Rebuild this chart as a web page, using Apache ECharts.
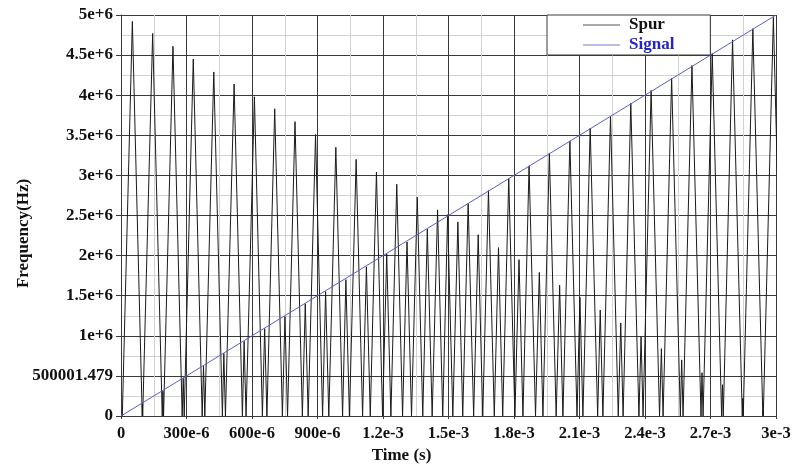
<!DOCTYPE html>
<html>
<head>
<meta charset="utf-8">
<script src="https://cdn.jsdelivr.net/npm/echarts@6/dist/echarts.min.js"></script>
<style>
html,body{margin:0;padding:0;background:#fff;}
#c{width:794px;height:468px;}
</style>
</head>
<body>
<div id="c"></div>
<script>
// ---- data (times in ms, frequencies in MHz) ----
const xTickLabels = ['0','300e-6','600e-6','900e-6','1.2e-3','1.5e-3','1.8e-3','2.1e-3','2.4e-3','2.7e-3','3e-3'];
const yTickLabels = ['0','500001.479','1e+6','1.5e+6','2e+6','2.5e+6','3e+6','3.5e+6','4e+6','4.5e+6','5e+6'];

// descending family of spur peaks
const spurDownT = [0.052,0.145,0.238,0.331,0.425,0.518,0.611,0.704,0.797,0.891,0.984,1.077,1.170,1.263,1.357,1.450,1.543,1.636,1.729,1.823,1.916,2.009,2.102,2.195,2.289,2.382,2.475,2.568,2.661,2.755,2.848,2.941];
const spurDownF = [4.92,4.77,4.61,4.45,4.29,4.14,3.98,3.83,3.67,3.51,3.35,3.20,3.04,2.89,2.73,2.57,2.42,2.26,2.10,1.95,1.79,1.63,1.48,1.32,1.16,0.99,0.84,0.70,0.54,0.39,0.22,0.08];
// ascending family of spur peaks
const spurUpT = [0.098,0.192,0.285,0.378,0.471,0.564,0.658,0.751,0.844,0.937,1.030,1.124,1.217,1.310,1.403,1.496,1.590,1.683,1.776,1.869,1.962,2.056,2.149,2.242,2.335,2.428,2.522,2.615,2.708,2.801,2.894,2.988];
const spurUpF = [0.15,0.31,0.47,0.62,0.78,0.93,1.09,1.24,1.40,1.55,1.70,1.86,2.02,2.17,2.33,2.51,2.65,2.81,2.96,3.12,3.28,3.43,3.59,3.74,3.90,4.06,4.21,4.37,4.52,4.69,4.83,4.97];
// spur zero crossings (troughs)
const spurLowT = [0.006,
  0.0972,0.0994,0.1888,0.1949,0.2803,0.2895,0.3719,0.3839,0.4644,0.4784,
  0.5561,0.5728,0.6476,0.6683,0.7392,0.7628,0.8307,0.8573,0.9233,0.9517,
  1.0149,1.0462,1.1065,1.1417,1.1980,1.2362,1.2896,1.3306,1.3821,1.4252,
  1.4736,1.5197,1.5652,1.6152,1.6568,1.7097,1.7483,1.8041,1.8409,1.8986,
  1.9325,1.9931,2.0240,2.0886,2.1156,2.1831,2.2072,2.2776,2.2997,2.3722,
  2.3911,2.4666,2.4828,2.5620,2.5744,2.6565,2.6660,2.7509,2.7586,2.8455,
  2.8500,2.9398,2.9417,3.0340];
const spurLowF = [0,
  0,0,0,0,0,0,0,0,0,0,
  0,0,0,0,0,0,0,0,0,0,
  0,0,0,0,0,0,0,0,0,0,
  0,0,0,0,0,0,0,0,0,0,
  0,0,0,0,0,0,0,0,0,0,
  0,0,0,0,0,0,0,0,0,0,
  0,0,0,0];

// signal sweep
const signalT = [0, 3.0];
const signalF = [0, 5.0];

// ---- build series data ----
function pairs(ts, fs){ return ts.map((t,i)=>[t*1e-3, fs[i]*1e6]); }
const spurData = pairs(spurDownT, spurDownF)
  .concat(pairs(spurUpT, spurUpF))
  .concat(pairs(spurLowT, spurLowF))
  .sort((a,b)=>a[0]-b[0]);
const signalData = pairs(signalT, signalF);

const serif = '"Liberation Serif","DejaVu Serif",serif';
const dark = '#3a3a3a';
const light = '#d2d2d2';

const chart = echarts.init(document.getElementById('c'), null, {renderer:'canvas'});
chart.setOption({
  animation:false,
  backgroundColor:'#fff',
  grid:{left:121, right:18, top:15, bottom:52, containLabel:false, outerBoundsMode:'none'},
  xAxis:{
    type:'value', min:0, max:3e-3, interval:3e-4,
    name:'Time (s)', nameLocation:'middle', nameGap:31, nameMoveOverlap:false,
    nameTextStyle:{fontFamily:serif, fontWeight:'bold', fontSize:17, color:'#111', padding:[0,94,0,0]},
    axisLine:{show:true, lineStyle:{color:dark, width:1}},
    axisTick:{show:true, length:3, lineStyle:{color:dark}},
    axisLabel:{fontFamily:serif, fontWeight:'bold', fontSize:16.5, color:'#111', margin:9,
      formatter:(v)=>xTickLabels[Math.round(v/3e-4)]},
    splitLine:{show:true, lineStyle:{color:dark, width:1}},
    minorTick:{show:false, splitNumber:2},
    minorSplitLine:{show:true, lineStyle:{color:light, width:1}}
  },
  yAxis:{
    type:'value', min:0, max:5e6, interval:5e5,
    name:'Frequency(Hz)', nameLocation:'middle', nameGap:89, nameMoveOverlap:false,
    nameTextStyle:{fontFamily:serif, fontWeight:'bold', fontSize:17, color:'#111', padding:[0,36,0,0]},
    axisLine:{show:true, lineStyle:{color:dark, width:1}},
    axisTick:{show:true, length:5, lineStyle:{color:dark}},
    axisLabel:{fontFamily:serif, fontWeight:'bold', fontSize:17, color:'#111', margin:8,
      formatter:(v)=>yTickLabels[Math.round(v/5e5)]},
    splitLine:{show:true, lineStyle:{color:dark, width:1}},
    minorTick:{show:false, splitNumber:2},
    minorSplitLine:{show:true, lineStyle:{color:light, width:1}}
  },
  legend:{
    orient:'vertical', left:547, top:15,
    backgroundColor:'#fff', borderColor:dark, borderWidth:1,
    padding:[1,36,1,36], itemGap:2, itemWidth:37, itemHeight:1, icon:'rect',
    textStyle:{fontFamily:serif, fontWeight:'bold', fontSize:17, lineHeight:18, padding:[0,0,0,4]},
    data:[
      {name:'Spur', textStyle:{color:'#111'}},
      {name:'Signal', textStyle:{color:'#2424c4'}}
    ],
    z:20
  },
  series:[
    {name:'Spur', type:'line', data:spurData, symbol:'none', showSymbol:false,
     lineStyle:{color:'#1a1a1a', width:1}, itemStyle:{color:'#555'}, z:3},
    {name:'Signal', type:'line', data:signalData, symbol:'none', showSymbol:false,
     lineStyle:{color:'#5c5cc8', width:1}, itemStyle:{color:'#7878d0'}, z:4}
  ]
});
</script>
</body>
</html>
